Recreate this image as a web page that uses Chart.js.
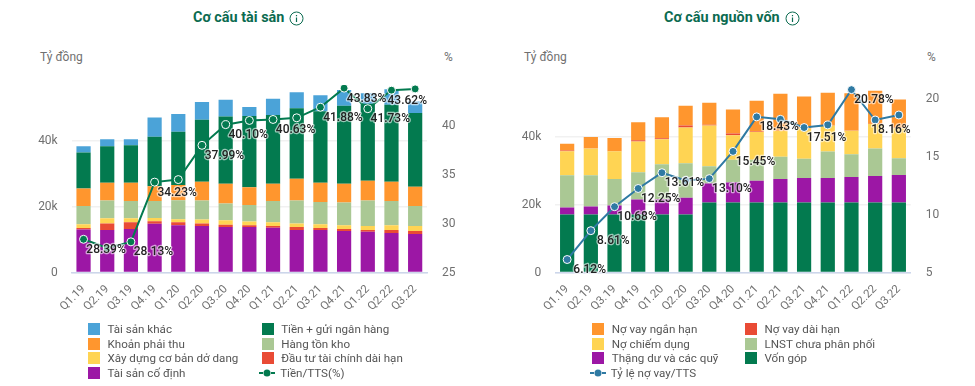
<!DOCTYPE html>
<html lang="vi">
<head>
<meta charset="utf-8">
<title>Cơ cấu tài sản và nguồn vốn</title>
<script src="https://cdn.jsdelivr.net/npm/chart.js@4/dist/chart.umd.min.js"></script>
<style>
  body { margin: 0; background: #fff; font-family: Roboto, sans-serif; }
  #page { position: relative; width: 975px; height: 386px; overflow: hidden; }
  canvas { position: absolute; top: 0; }
  .title { position: absolute; top: 9px; height: 18px; line-height: 18px; font-size: 14.4px; font-weight: 700; color: #0b6b50; white-space: nowrap; display: flex; align-items: center; gap: 5px; }
  .unit { position: absolute; top: 50px; font-size: 12px; line-height: 14px; color: #707070; }
  .legend { position: absolute; top: 322px; display: grid; grid-auto-rows: 14.6px; font-size: 11.6px; line-height: 14px; color: #555; }
  .item { display: flex; align-items: center; height: 14.6px; white-space: nowrap; }
  .swatch { width: 12px; height: 12px; margin-right: 7.5px; flex: none; }
  .item svg { margin: 0 5px 0 -2.5px; flex: none; }
</style>
</head>
<body>
<div id="page">
  <div class="title" style="left:193px">Cơ cấu tài sản <svg width="15" height="15" viewBox="0 0 15 15"><circle cx="7.5" cy="7.5" r="6.5" fill="none" stroke="#0b6b50"/><path d="M7.5 6.5v4.5M7.5 4v1.3" stroke="#0b6b50" stroke-width="1.2"/></svg></div>
  <div class="title" style="left:664px">Cơ cấu nguồn vốn <svg width="15" height="15" viewBox="0 0 15 15"><circle cx="7.5" cy="7.5" r="6.5" fill="none" stroke="#0b6b50"/><path d="M7.5 6.5v4.5M7.5 4v1.3" stroke="#0b6b50" stroke-width="1.2"/></svg></div>
  <div class="unit" style="left:40px">Tỷ đồng</div>
  <div class="unit" style="left:444px">%</div>
  <div class="unit" style="left:524px">Tỷ đồng</div>
  <div class="unit" style="left:927px">%</div>
  <canvas id="assetChart" width="490" height="386" style="left:0"></canvas>
  <canvas id="capitalChart" width="485" height="386" style="left:490px"></canvas>
  <div class="legend" id="assetLegend" style="left:88px;grid-template-columns:173.7px 200px"></div>
  <div class="legend" id="capitalLegend" style="left:592.3px;grid-template-columns:152.7px 200px"></div>
</div>

<script>
// Quarters
const QUARTERS = ["Q1.19","Q2.19","Q3.19","Q4.19","Q1.20","Q2.20","Q3.20","Q4.20","Q1.21","Q2.21","Q3.21","Q4.21","Q1.22","Q2.22","Q3.22"];

// Asset structure (thousand ty dong)
const fixedAssets = [13.1,12.9,13.2,14.8,14.4,14.1,13.8,13.8,13.6,12.9,12.9,12.6,12.4,12.0,11.7];
const longInvest = [0.4,2.0,2.1,0.8,0.9,0.8,0.7,0.6,0.5,0.9,0.6,0.6,0.5,0.9,0.9];
const construction = [1.2,1.6,1.2,1.0,0.9,1.2,1.4,1.1,1.2,1.1,1.2,1.2,1.2,1.5,1.5];
const inventory = [5.5,5.4,5.2,5.1,5.8,5.8,5.1,5.0,6.4,7.0,6.7,6.9,7.8,7.3,6.1];
const receivables = [5.3,5.4,5.6,4.5,4.6,5.7,6.0,5.4,5.3,6.6,5.9,5.7,6.0,5.9,5.9];
const cash = [11.0,11.1,11.4,15.1,16.2,18.8,20.4,21.7,20.9,21.4,21.7,23.7,23.4,23.4,22.4];
const otherAssets = [1.9,2.1,1.8,5.8,5.4,5.4,5.1,2.7,4.9,4.9,4.9,4.8,3.2,4.7,3.5];
const cashRatio = [28.39,27.5,28.13,34.23,34.49,37.99,40.10,40.53,40.63,40.8,41.88,43.83,41.73,43.62,43.75];
const cashRatioShown = ["Q1.19","Q3.19","Q4.19","Q2.20","Q3.20","Q1.21","Q3.21","Q4.21","Q1.22","Q2.22"];

// Capital structure (thousand ty dong)
const equity = [17.1,17.1,17.1,17.1,17.1,17.1,20.6,20.6,20.6,20.6,20.6,20.6,20.6,20.6,20.6];
const surplus = [2.0,2.3,2.6,4.4,4.5,4.9,5.6,5.9,6.4,6.9,7.2,7.2,7.5,7.8,8.1];
const retained = [9.5,9.2,7.8,8.0,10.3,10.2,5.1,6.7,6.2,6.6,5.7,7.8,6.7,8.1,4.9];
const payables = [7.1,7.9,8.2,9.1,7.3,10.5,12.0,7.2,8.2,7.6,8.9,7.7,6.9,7.2,8.9];
const longDebt = [0.2,0.1,0.1,0.3,0.3,0.6,0.2,0.5,0.1,0.1,0.1,0.1,0.1,0.1,0.1];
const shortDebt = [2.0,3.3,3.8,5.3,6.2,5.8,6.5,7.1,9.1,10.8,9.3,9.5,11.0,9.7,8.3];
const debtRatio = [6.12,8.61,10.68,12.25,13.61,12.95,13.10,15.45,18.43,18.22,17.51,17.73,20.78,18.16,18.59];
const debtRatioShown = ["Q1.19","Q2.19","Q3.19","Q4.19","Q1.20","Q3.20","Q4.20","Q1.21","Q3.21","Q1.22","Q2.22"];

const GREEN = "#037a4f", BLUE = "#4ba3d8", ORANGE = "#ff962e", SAGE = "#aac894",
      YELLOW = "#ffd453", RED = "#e94b35", PURPLE = "#9c17a5", STEEL = "#2f7aa3";

Chart.defaults.font.family = "Roboto, sans-serif";
Chart.defaults.animation = false;

// Value labels: below-right of the point, kept inside the plot
const pointLabels = {
  id: "pointLabels",
  afterDatasetsDraw(chart, args, opts) {
    const ctx = chart.ctx;
    const idx = chart.data.datasets.findIndex(d => d.type === "line");
    const ds = chart.data.datasets[idx];
    ctx.save();
    ctx.font = "500 12px Roboto, sans-serif";
    ctx.textAlign = "center";
    ctx.textBaseline = "middle";
    ctx.lineJoin = "round";
    chart.getDatasetMeta(idx).data.forEach((pt, i) => {
      if (!opts.shown.includes(QUARTERS[i])) return;
      const text = ds.data[i].toFixed(2) + "%";
      const w = ctx.measureText(text).width;
      const x = Math.min(pt.x + 22.5, chart.chartArea.right - w / 2);
      const y = pt.y + 10.5;
      ctx.lineWidth = 2.5;
      ctx.strokeStyle = "rgba(255,255,255,0.6)";
      ctx.strokeText(text, x, y);
      ctx.fillStyle = "#222";
      ctx.fillText(text, x, y);
    });
    ctx.restore();
  }
};

// the axis stops above its last round tick, so no tick at the very top
const dropTopTick = scale => {
  scale.ticks = scale.ticks.filter(t => t.value % (scale.options.ticks.stepSize) === 0);
};

function makeChart(id, cfg) {
  const bars = cfg.bars.map(b => ({
    type: "bar", label: b.label, data: b.data, backgroundColor: b.color,
    borderWidth: 0, barPercentage: 0.6, categoryPercentage: 1, order: 1, yAxisID: "y"
  }));
  const line = {
    type: "line", label: cfg.line.label, data: cfg.line.data, yAxisID: "y1", order: 0,
    borderColor: cfg.line.color, backgroundColor: cfg.line.color, borderWidth: 2, tension: 0,
    pointRadius: 4, pointBorderColor: "#fff", pointBorderWidth: 1, pointBackgroundColor: cfg.line.color
  };
  return new Chart(document.getElementById(id), {
    data: { labels: QUARTERS, datasets: [...bars, line] },
    plugins: [pointLabels],
    options: {
      responsive: false,
      layout: { padding: { top: 85 } },
      plugins: {
        legend: { display: false },
        tooltip: { enabled: false },
        pointLabels: { shown: cfg.shown }
      },
      scales: {
        x: {
          stacked: true,
          grid: { display: false },
          border: { color: "#ccd6eb", width: 1.5 },
          ticks: { color: "#707070", font: { size: 11.5 }, minRotation: 45, maxRotation: 45, padding: 2, autoSkip: false },
          afterFit: s => { s.height = 113.5; }
        },
        y: {
          stacked: true, min: 0, max: cfg.leftMax,
          grid: { color: "#f1f1f1", lineWidth: 1.5, drawTicks: false },
          border: { display: false },
          ticks: { stepSize: 20, color: "#707070", font: { size: 12 }, padding: 14, callback: v => v === 0 ? "0" : v + "k" },
          afterBuildTicks: dropTopTick,
          afterFit: s => { s.width = cfg.axisLeft; }
        },
        y1: {
          position: "right", min: cfg.rightMin, max: cfg.rightMax,
          grid: { display: false, drawTicks: false },
          border: { display: false },
          ticks: { stepSize: 5, color: "#707070", font: { size: 12 }, padding: 15 },
          afterBuildTicks: dropTopTick,
          afterFit: s => { s.width = cfg.axisRight; }
        }
      }
    }
  });
}

function makeLegend(id, items) {
  const box = document.getElementById(id);
  items.forEach(it => {
    const el = document.createElement("div");
    el.className = "item";
    if (it.line) {
      el.innerHTML = `<svg width="16" height="10"><path d="M0 5h16" stroke="${it.color}" stroke-width="2" stroke-dasharray="4 1.5 5 1.5 4"/><circle cx="8" cy="5" r="3.5" fill="${it.color}"/></svg>`;
    } else {
      el.innerHTML = `<span class="swatch" style="background:${it.color}"></span>`;
    }
    el.appendChild(document.createTextNode(it.label));
    box.appendChild(el);
  });
}

makeChart("assetChart", {
  axisLeft: 71.7, axisRight: 63, leftMax: 57, rightMin: 25, rightMax: 44.15, shown: cashRatioShown,
  bars: [
    { label: "Tài sản cố định", data: fixedAssets, color: PURPLE },
    { label: "Đầu tư tài chính dài hạn", data: longInvest, color: RED },
    { label: "Xây dựng cơ bản dở dang", data: construction, color: YELLOW },
    { label: "Hàng tồn kho", data: inventory, color: SAGE },
    { label: "Khoản phải thu", data: receivables, color: ORANGE },
    { label: "Tiền + gửi ngân hàng", data: cash, color: GREEN },
    { label: "Tài sản khác", data: otherAssets, color: BLUE }
  ],
  line: { label: "Tiền/TTS(%)", data: cashRatio, color: GREEN }
});

makeChart("capitalChart", {
  axisLeft: 65.3, axisRight: 64.3, leftMax: 55.2, rightMin: 5, rightMax: 21.18, shown: debtRatioShown,
  bars: [
    { label: "Vốn góp", data: equity, color: GREEN },
    { label: "Thặng dư và các quỹ", data: surplus, color: PURPLE },
    { label: "LNST chưa phân phối", data: retained, color: SAGE },
    { label: "Nợ chiếm dụng", data: payables, color: YELLOW },
    { label: "Nợ vay dài hạn", data: longDebt, color: RED },
    { label: "Nợ vay ngắn hạn", data: shortDebt, color: ORANGE }
  ],
  line: { label: "Tỷ lệ nợ vay/TTS", data: debtRatio, color: STEEL }
});

makeLegend("assetLegend", [
  { label: "Tài sản khác", color: BLUE },
  { label: "Tiền + gửi ngân hàng", color: GREEN },
  { label: "Khoản phải thu", color: ORANGE },
  { label: "Hàng tồn kho", color: SAGE },
  { label: "Xây dựng cơ bản dở dang", color: YELLOW },
  { label: "Đầu tư tài chính dài hạn", color: RED },
  { label: "Tài sản cố định", color: PURPLE },
  { label: "Tiền/TTS(%)", color: GREEN, line: true }
]);

makeLegend("capitalLegend", [
  { label: "Nợ vay ngắn hạn", color: ORANGE },
  { label: "Nợ vay dài hạn", color: RED },
  { label: "Nợ chiếm dụng", color: YELLOW },
  { label: "LNST chưa phân phối", color: SAGE },
  { label: "Thặng dư và các quỹ", color: PURPLE },
  { label: "Vốn góp", color: GREEN },
  { label: "Tỷ lệ nợ vay/TTS", color: STEEL, line: true }
]);
</script>
</body>
</html>
